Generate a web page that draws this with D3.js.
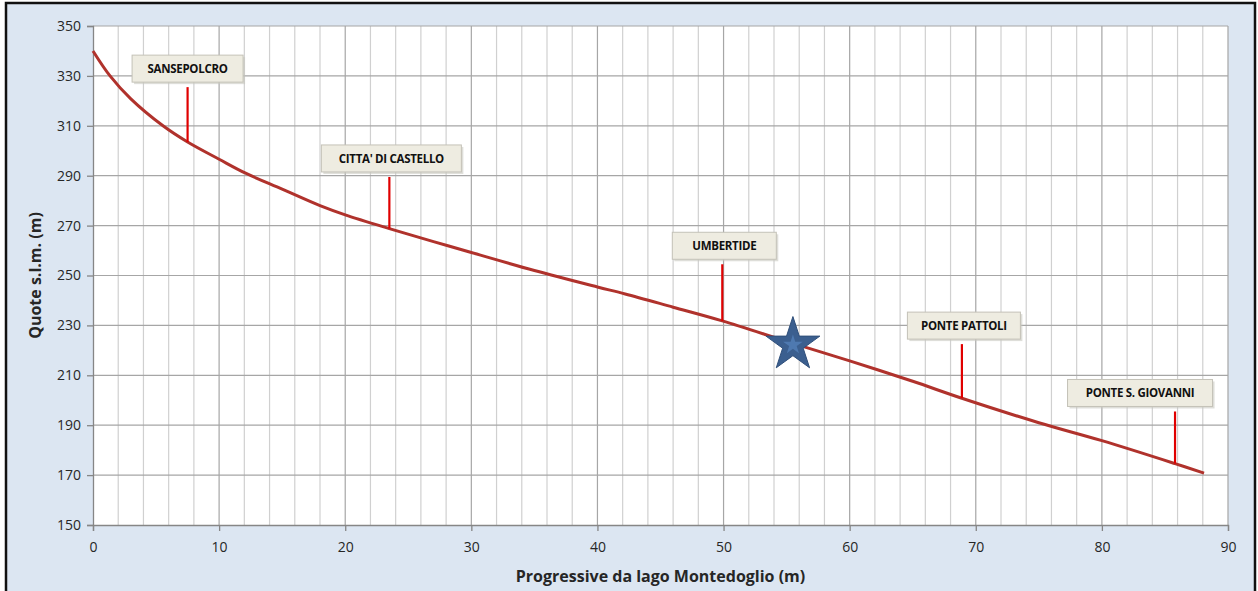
<!DOCTYPE html>
<html><head><meta charset="utf-8">
<script src="https://cdn.jsdelivr.net/npm/d3@7"></script>
<style>body{margin:0;background:#fff}svg{display:block}</style>
</head><body>
<svg id="c" width="1258" height="591"></svg>
<script>
const profileX = [0, 1.35, 3, 5.55, 7.5, 10, 12.1, 15, 18, 20, 23.5, 27, 30, 35, 40, 42.2, 46, 49.9, 55.5, 60, 65, 68.9, 75, 80, 85.8, 88.1];
const profileY = [340, 330, 320.8, 310, 303.5, 296.6, 291, 284.6, 278, 274.3, 268.8, 263.6, 259.2, 252, 245.4, 242.6, 237.3, 231.8, 222.8, 215.8, 207.6, 200.8, 191, 183.8, 174.6, 170.8];
const labelNames = ["SANSEPOLCRO", "CITTA' DI CASTELLO", "UMBERTIDE", "PONTE PATTOLI", "PONTE S. GIOVANNI"];
const labelX = [7.5, 23.5, 49.9, 68.9, 85.8];
const labelBase = [303.5, 268.8, 231.8, 200.8, 174.6];
const labelTop = [325.5, 289.5, 254.5, 222.5, 195.5];
const starPos = [55.5, 223];
const xTicks = [0,10,20,30,40,50,60,70,80,90];
const yTicks = [150,170,190,210,230,250,270,290,310,330,350];

const svg = d3.select("#c");
svg.append("rect").attr("x",0).attr("y",0).attr("width",1258).attr("height",591).attr("fill","#fff");
svg.append("rect").attr("x",6).attr("y",3).attr("width",1249).attr("height",592)
  .attr("fill","#dce6f2").attr("stroke","#111").attr("stroke-width",2.5);

const L=93,R=1228,T=26,B=525;
const x = d3.scaleLinear().domain([0,90]).range([L,R]);
const y = d3.scaleLinear().domain([150,350]).range([B,T]);
svg.append("rect").attr("x",L).attr("y",T).attr("width",R-L).attr("height",B-T).attr("fill","#fff");

const g = svg.append("g");
g.selectAll(".vmin").data(d3.range(0,91,2).filter(v=>v%10!==0)).join("line")
  .attr("x1",d=>x(d)).attr("x2",d=>x(d)).attr("y1",T).attr("y2",B)
  .attr("stroke","#d0d0d0").attr("stroke-width",1.2);
g.selectAll(".vmaj").data(xTicks.slice(1)).join("line")
  .attr("x1",d=>x(d)).attr("x2",d=>x(d)).attr("y1",T).attr("y2",B)
  .attr("stroke","#a6a6a6").attr("stroke-width",1.2);
g.selectAll(".h").data(yTicks.slice(1)).join("line")
  .attr("x1",L).attr("x2",R).attr("y1",d=>y(d)).attr("y2",d=>y(d))
  .attr("stroke","#a6a6a6").attr("stroke-width",1.2);

const ax = svg.append("g").attr("transform",`translate(0,${B})`)
  .call(d3.axisBottom(x).tickValues(xTicks).tickSize(6).tickPadding(8));
const ay = svg.append("g").attr("transform",`translate(${L},0)`)
  .call(d3.axisLeft(y).tickValues(yTicks).tickSize(6).tickPadding(6));
[ax,ay].forEach(a=>{
  a.selectAll("path,line").attr("stroke","#868686").attr("stroke-width",1.3);
  a.selectAll("text").attr("fill","#262626").attr("font-family","Open Sans, sans-serif").attr("font-size",14);
});
ax.selectAll("text").attr("dy","0.9em");

const pts = profileX.map((v,i)=>[v,profileY[i]]);
svg.append("path").datum(pts)
  .attr("d",d3.line().x(d=>x(d[0])).y(d=>y(d[1])).curve(d3.curveCatmullRom.alpha(0.5)))
  .attr("fill","none").attr("stroke","#b0322c").attr("stroke-width",3).attr("stroke-linejoin","round");

const boxW = [111,140,104,113,145];
const boxOff = [0,2,2,2,-35];
labelNames.forEach((n,i)=>{
  const sx = x(labelX[i]);
  svg.append("line").attr("x1",sx).attr("x2",sx).attr("y1",y(labelBase[i])).attr("y2",y(labelTop[i]))
    .attr("stroke","#e00000").attr("stroke-width",2.2);
  const bw = boxW[i], bx = sx - bw/2 + boxOff[i], by = y(labelTop[i]) - 32;
  svg.append("rect").attr("x",bx+2).attr("y",by+2).attr("width",bw).attr("height",27)
    .attr("fill","#c8c8c0").attr("opacity",0.6);
  svg.append("rect").attr("x",bx).attr("y",by).attr("width",bw).attr("height",27)
    .attr("fill","#eeece1").attr("stroke","#c4c2b8").attr("stroke-width",1);
  svg.append("text").attr("x",bx+bw/2).attr("y",by+18).attr("text-anchor","middle")
    .attr("font-family","Open Sans, sans-serif").attr("font-weight","bold").attr("font-size",11.5)
    .attr("fill","#111").attr("letter-spacing","-0.3").text(n);
});

const star = d3.symbol().type(d3.symbolStar).size(900);
svg.append("path").attr("d",star()).attr("transform",`translate(${x(starPos[0])},${y(starPos[1])+2})`)
  .attr("fill","#3b5f8f").attr("stroke","#2f4f7a").attr("stroke-width",1);
svg.append("path").attr("d",d3.symbol().type(d3.symbolStar).size(120)()).attr("transform",`translate(${x(starPos[0])},${y(starPos[1])+2})`)
  .attr("fill","#4e79b0");

svg.append("text").attr("x",(L+R)/2).attr("y",582).attr("text-anchor","middle")
  .attr("font-family","Open Sans, sans-serif").attr("font-weight","bold").attr("font-size",16)
  .attr("fill","#262626").text("Progressive da lago Montedoglio (m)");
svg.append("text").attr("transform",`translate(41,${(T+B)/2}) rotate(-90)`).attr("text-anchor","middle")
  .attr("font-family","Open Sans, sans-serif").attr("font-weight","bold").attr("font-size",16)
  .attr("fill","#262626").text("Quote s.l.m. (m)");
</script>
</body></html>
